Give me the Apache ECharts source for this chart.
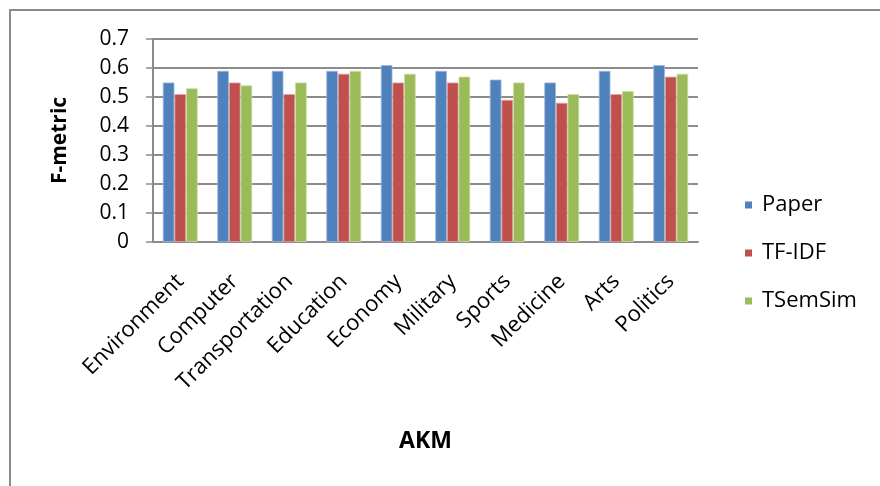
<!DOCTYPE html>
<html>
<head>
<meta charset="utf-8">
<script src="https://cdn.jsdelivr.net/npm/echarts@6/dist/echarts.min.js"></script>
<style>
  html, body { margin: 0; padding: 0; background: #ffffff; }
  #chart { width: 880px; height: 486px; }
</style>
</head>
<body>
<div id="chart"></div>
<script>
// Topic categories along the x axis
const categories = ['Environment', 'Computer', 'Transportation', 'Education', 'Economy',
                    'Military', 'Sports', 'Medicine', 'Arts', 'Politics'];

// F-metric per method
const paper   = [0.55, 0.59, 0.59, 0.59, 0.61, 0.59, 0.56, 0.55, 0.59, 0.61];
const tfidf   = [0.51, 0.55, 0.51, 0.58, 0.55, 0.55, 0.49, 0.48, 0.51, 0.57];
const tsemsim = [0.53, 0.54, 0.55, 0.59, 0.58, 0.57, 0.55, 0.51, 0.52, 0.58];

const seriesNames = ['Paper', 'TF-IDF', 'TSemSim'];
const seriesData = [paper, tfidf, tsemsim];
const colors = ['#4F81BD', '#C0504D', '#9BBB59'];
const edgeColors = ['#9DB8DB', '#E0A3A1', '#CADDA6'];

// Y axis ticks
const yMin = 0, yMax = 0.7, yStep = 0.1;

const FONT = '"Open Sans", "Liberation Sans", sans-serif';
const gridColor = '#8C8C8C';

const chart = echarts.init(document.getElementById('chart'), null, { renderer: 'canvas' });

chart.setOption({
  backgroundColor: '#ffffff',
  animation: false,
  textStyle: { fontFamily: FONT, color: '#000000' },
  graphic: [{
    type: 'rect',
    shape: { x: 10, y: 10, width: 880, height: 490 },
    style: { fill: 'none', stroke: '#8A8A8A', lineWidth: 2 },
    silent: true
  }],
  grid: { left: 153, right: 182, top: 39, bottom: 244 },
  legend: {
    orient: 'vertical',
    left: 740,
    top: 188,
    itemWidth: 7,
    itemHeight: 7,
    itemGap: 24,
    icon: 'rect',
    itemStyle: { borderWidth: 0, borderColor: 'transparent' },
    textStyle: { fontFamily: FONT, fontSize: 22, color: '#000000', lineHeight: 24, padding: [0, 0, 0, 5] },
    data: seriesNames.map((n, i) => ({ name: n, itemStyle: { color: colors[i], borderWidth: 0, borderColor: 'transparent' } }))
  },
  xAxis: {
    type: 'category',
    data: categories,
    name: 'AKM',
    nameLocation: 'middle',
    nameGap: 188,
    nameTextStyle: { fontFamily: FONT, fontSize: 23, fontWeight: 'bold', color: '#000000' },
    axisLine: { show: true, lineStyle: { color: gridColor, width: 2 } },
    axisTick: { show: false },
    axisLabel: {
      interval: 0,
      rotate: 45,
      margin: 36,
      fontFamily: FONT,
      fontSize: 22,
      color: '#000000'
    }
  },
  yAxis: {
    type: 'value',
    min: yMin,
    max: yMax,
    interval: yStep,
    name: 'F-metric',
    nameLocation: 'middle',
    nameRotate: 90,
    nameGap: 82,
    nameTextStyle: { fontFamily: FONT, fontSize: 21, fontWeight: 'bold', color: '#000000' },
    axisLine: { show: true, lineStyle: { color: gridColor, width: 2 } },
    axisTick: { show: true, length: 7, lineStyle: { color: gridColor, width: 1.5 } },
    axisLabel: {
      margin: 24,
      fontFamily: FONT,
      fontSize: 21,
      color: '#000000',
      formatter: v => (v === 0 ? '0' : v.toFixed(1))
    },
    splitLine: { show: true, lineStyle: { color: gridColor, width: 2 } }
  },
  series: seriesNames.map((name, i) => ({
    name: name,
    type: 'bar',
    data: seriesData[i],
    barGap: '0%',
    barCategoryGap: '36%',
    itemStyle: { color: colors[i], borderColor: edgeColors[i], borderWidth: 0.8 }
  }))
});
</script>
</body>
</html>
